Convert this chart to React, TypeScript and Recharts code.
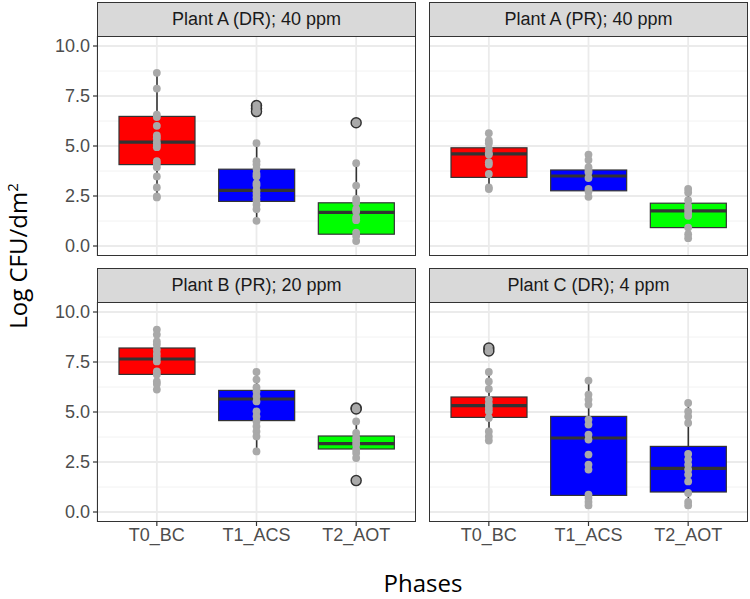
import React from "react";
import {
  Bar,
  CartesianGrid,
  ComposedChart,
  Scatter,
  XAxis,
  YAxis,
} from "recharts";

const phases = ["T0_BC", "T1_ACS", "T2_AOT"];
const yTicks = [0, 2.5, 5, 7.5, 10];
const minorTicks = [1.25, 3.75, 6.25, 8.75];

// Plant A (DR); 40 ppm
const aDrTitle = "Plant A (DR); 40 ppm";
const aDrColors = ["#ff0000", "#0000ff", "#00ff00"];
const aDrQ1 = [4.07, 2.23, 0.59];
const aDrMed = [5.19, 2.78, 1.68];
const aDrQ3 = [6.48, 3.84, 2.16];
const aDrLow = [2.43, 1.26, 0.25];
const aDrHigh = [8.66, 5.14, 4.14];
const aDrPoints = [
  [8.66, 7.87, 6.57, 6.45, 6.01, 5.53, 5.39, 5.19, 5.06, 4.94, 4.24, 4.1, 3.94, 3.48, 2.93, 2.48, 2.43],
  [7.02, 6.87, 6.72, 5.14, 4.24, 4.07, 3.85, 3.6, 3.48, 3.13, 3.02, 2.78, 2.6, 2.43, 2.26, 2.06, 1.84, 1.26],
  [6.16, 4.14, 3.02, 2.35, 2.18, 1.84, 1.73, 1.42, 1.29, 0.67, 0.5, 0.25],
];
const aDrOutliers = [[], [7.02, 6.87, 6.72], [6.16]];

// Plant A (PR); 40 ppm
const aPrTitle = "Plant A (PR); 40 ppm";
const aPrColors = ["#ff0000", "#0000ff", "#00ff00"];
const aPrQ1 = [3.43, 2.76, 0.92];
const aPrMed = [4.61, 3.5, 1.76];
const aPrQ3 = [4.91, 3.8, 2.14];
const aPrLow = [2.85, 2.43, 0.39];
const aPrHigh = [5.64, 4.57, 2.88];
const aPrPoints = [
  [5.64, 5.28, 5.14, 4.86, 4.64, 4.57, 4.19, 4.07, 3.6, 2.93, 2.85],
  [4.57, 4.3, 3.94, 3.8, 3.69, 3.4, 2.85, 2.73, 2.46],
  [2.85, 2.68, 2.29, 2.01, 1.84, 1.68, 1.51, 0.92, 0.59, 0.39],
];
const aPrOutliers = [[], [], []];

// Plant B (PR); 20 ppm
const bPrTitle = "Plant B (PR); 20 ppm";
const bPrColors = ["#ff0000", "#0000ff", "#00ff00"];
const bPrQ1 = [6.88, 4.57, 3.15];
const bPrMed = [7.65, 5.65, 3.42];
const bPrQ3 = [8.2, 6.08, 3.8];
const bPrLow = [6.12, 3.03, 2.62];
const bPrHigh = [9.12, 7.0, 4.53];
const bPrPoints = [
  [9.12, 8.87, 8.53, 8.37, 8.12, 7.9, 7.7, 7.53, 7.03, 6.87, 6.53, 6.4, 6.12],
  [7.0, 6.62, 6.23, 6.03, 5.78, 5.53, 5.03, 4.78, 4.53, 4.28, 4.03, 3.78, 3.03],
  [5.2, 5.15, 4.53, 3.95, 3.7, 3.53, 3.37, 3.12, 2.95, 2.7, 1.57],
];
const bPrOutliers = [[], [], [5.2, 5.15, 1.57]];

// Plant C (DR); 4 ppm
const cDrTitle = "Plant C (DR); 4 ppm";
const cDrColors = ["#ff0000", "#0000ff", "#0000ff"];
const cDrQ1 = [4.73, 0.83, 1.0];
const cDrMed = [5.32, 3.7, 2.18];
const cDrQ3 = [5.75, 4.78, 3.28];
const cDrLow = [3.57, 0.33, 0.33];
const cDrHigh = [7.0, 6.57, 5.45];
const cDrPoints = [
  [8.2, 8.05, 7.0, 6.53, 6.15, 5.62, 5.4, 5.2, 5.03, 4.7, 4.03, 3.78, 3.57],
  [6.57, 5.87, 5.62, 5.37, 4.62, 4.37, 3.87, 3.62, 2.87, 2.37, 2.12, 0.87, 0.7, 0.5, 0.33],
  [5.45, 5.03, 4.78, 4.45, 2.9, 2.62, 2.37, 2.12, 1.87, 1.53, 0.95, 0.5, 0.33],
];
const cDrOutliers = [[8.2, 8.05], [], []];

const tickFont = "'Liberation Sans', Arial, sans-serif";
const titleFont = "'Open Sans', 'Noto Sans', sans-serif";

const PANEL_W = 319;
const PANEL_H = 220;
const Y_AXIS_W = 56;
const X_AXIS_H = 30;

const BoxShape = (props: any) => {
  const { x, y, width, height, payload } = props;
  const [lo, hi] = payload.range;
  const top = Math.min(y, y + height);
  const h = Math.abs(height);
  const py = (v: number) => top + ((hi - v) / (hi - lo)) * h;
  const cx = x + width / 2;
  return (
    <g>
      <line x1={cx} x2={cx} y1={py(hi)} y2={py(payload.q3)} stroke="#333" strokeWidth={1.6} />
      <line x1={cx} x2={cx} y1={py(payload.q1)} y2={py(lo)} stroke="#333" strokeWidth={1.6} />
      <rect
        x={x}
        y={py(payload.q3)}
        width={width}
        height={py(payload.q1) - py(payload.q3)}
        fill={payload.color}
        stroke="#333"
        strokeWidth={1.2}
      />
      <line x1={x} x2={x + width} y1={py(payload.med)} y2={py(payload.med)} stroke="#333" strokeWidth={3.2} />
    </g>
  );
};

const Panel = ({ title, colors, q1, med, q3, low, high, points, outliers, left, top, showY, showX }: any) => {
  const rows = phases.map((cat, i) => ({
    cat,
    range: [low[i], high[i]],
    q1: q1[i],
    med: med[i],
    q3: q3[i],
    color: colors[i],
  }));
  const pts = phases.flatMap((cat, i) => points[i].map((v: number) => ({ cat, v })));
  const outs = phases.flatMap((cat, i) => outliers[i].map((v: number) => ({ cat, v })));
  const w = PANEL_W + (showY ? Y_AXIS_W : 0);
  const h = PANEL_H + (showX ? X_AXIS_H : 0);
  return (
    <>
      <div
        style={{
          position: "absolute",
          left,
          top: top - 34,
          width: PANEL_W,
          height: 34,
          boxSizing: "border-box",
          background: "#d9d9d9",
          border: "1px solid #333",
          borderBottom: "none",
          color: "#1a1a1a",
          fontFamily: tickFont,
          fontSize: 18,
          lineHeight: "33px",
          textAlign: "center",
        }}
      >
        {title}
      </div>
      <div style={{ position: "absolute", left: left - (showY ? Y_AXIS_W : 0), top }}>
        <ComposedChart width={w} height={h} data={rows} margin={{ top: 0, right: 0, bottom: 0, left: 0 }}>
          <CartesianGrid horizontalValues={minorTicks} vertical={false} stroke="#f2f2f2" strokeWidth={1} />
          <CartesianGrid horizontalValues={yTicks} stroke="#ebebeb" strokeWidth={1.8} />
          <XAxis
            dataKey="cat"
            type="category"
            allowDuplicatedCategory={false}
            padding={{ left: 10, right: 10 }}
            hide={!showX}
            height={X_AXIS_H}
            axisLine={false}
            tickLine={{ stroke: "#333", strokeWidth: 1.2 }}
            tickSize={4}
            tick={{ fill: "#4d4d4d", fontSize: 18, fontFamily: tickFont }}
            interval={0}
          />
          <YAxis
            type="number"
            domain={[-0.5, 10.5]}
            ticks={yTicks}
            interval={0}
            allowDataOverflow
            hide={!showY}
            width={Y_AXIS_W}
            axisLine={false}
            tickLine={{ stroke: "#333", strokeWidth: 1.2 }}
            tickSize={4}
            tickMargin={3}
            tickFormatter={(v: number) => v.toFixed(1)}
            tick={{ fill: "#4d4d4d", fontSize: 18, fontFamily: tickFont }}
          />
          <Bar dataKey="range" barSize={76} shape={BoxShape} isAnimationActive={false} />
          {outs.length > 0 && (
            <Scatter
              data={outs}
              dataKey="v"
              isAnimationActive={false}
              shape={(p: any) => <circle cx={p.cx} cy={p.cy} r={5} fill="#a9a9a9" stroke="#333" strokeWidth={1.5} />}
            />
          )}
          <Scatter
            data={pts}
            dataKey="v"
            isAnimationActive={false}
            shape={(p: any) => <circle cx={p.cx} cy={p.cy} r={3.9} fill="#a9a9a9" />}
          />
        </ComposedChart>
      </div>
      <div
        style={{
          position: "absolute",
          left,
          top,
          width: PANEL_W,
          height: PANEL_H,
          boxSizing: "border-box",
          border: "1px solid #333",
          pointerEvents: "none",
        }}
      />
    </>
  );
};

export default function App() {
  return (
    <div style={{ position: "absolute", left: 0, top: 0, width: 750, height: 599, background: "#fff" }}>
      <Panel title={aDrTitle} colors={aDrColors} q1={aDrQ1} med={aDrMed} q3={aDrQ3} low={aDrLow} high={aDrHigh}
        points={aDrPoints} outliers={aDrOutliers} left={97} top={36} showY showX={false} />
      <Panel title={aPrTitle} colors={aPrColors} q1={aPrQ1} med={aPrMed} q3={aPrQ3} low={aPrLow} high={aPrHigh}
        points={aPrPoints} outliers={aPrOutliers} left={429} top={36} showY={false} showX={false} />
      <Panel title={bPrTitle} colors={bPrColors} q1={bPrQ1} med={bPrMed} q3={bPrQ3} low={bPrLow} high={bPrHigh}
        points={bPrPoints} outliers={bPrOutliers} left={97} top={302} showY showX />
      <Panel title={cDrTitle} colors={cDrColors} q1={cDrQ1} med={cDrMed} q3={cDrQ3} low={cDrLow} high={cDrHigh}
        points={cDrPoints} outliers={cDrOutliers} left={429} top={302} showY={false} showX />
      <div
        style={{
          position: "absolute",
          left: 18,
          top: 256,
          transform: "translate(-50%, -50%) rotate(-90deg)",
          whiteSpace: "nowrap",
          fontFamily: titleFont,
          fontSize: 24,
          lineHeight: "26px",
          color: "#000",
        }}
      >
        Log CFU/dm<sup style={{ fontSize: 15, lineHeight: 0 }}>2</sup>
      </div>
      <div
        style={{
          position: "absolute",
          left: 423,
          top: 583,
          transform: "translate(-50%, -50%)",
          whiteSpace: "nowrap",
          fontFamily: titleFont,
          fontSize: 24,
          lineHeight: "26px",
          color: "#000",
        }}
      >
        Phases
      </div>
    </div>
  );
}
